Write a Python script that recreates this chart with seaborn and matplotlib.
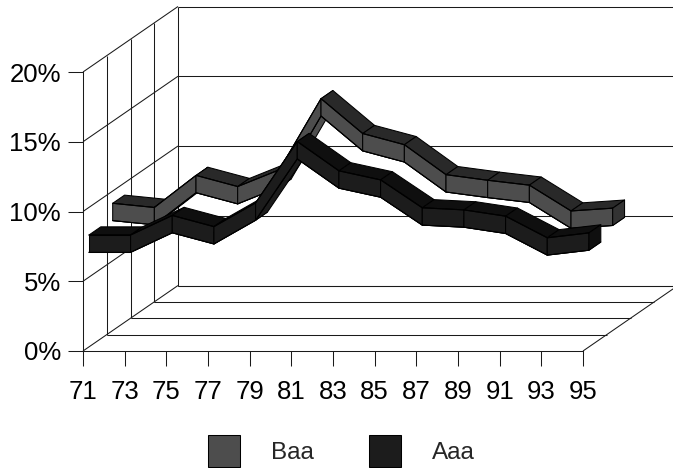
import numpy as np
import pandas as pd
import matplotlib
matplotlib.use("Agg")
import matplotlib.pyplot as plt
from matplotlib.patches import Patch
from matplotlib.ticker import PercentFormatter
import seaborn as sns

# values
years = ['71', '73', '75', '77', '79', '81', '83', '85', '87', '89', '91', '93', '95']
baa = [8.5, 8.2, 10.5, 9.7, 10.9, 16.0, 13.5, 12.7, 10.55, 10.15, 9.8, 7.95, 8.15]
aaa = [7.4, 7.4, 8.8, 8.0, 9.7, 14.1, 12.0, 11.35, 9.35, 9.2, 8.75, 7.2, 7.55]
y_ticks = [0, 5, 10, 15, 20]

W, H = 673, 468
LINE = 0.75
INK = '#1a1a1a'
FONT = 18.5
LEGEND_FONT = 17.5

# oblique depth of the box, in axis units (categories, percent)
DEPTH_X = 2.28
DEPTH_Y = 4.695
HALF = 0.62      # half the ribbon height in percent


def shift(x, v, d):
    # move a point back by depth fraction d
    return np.asarray(x, dtype=float) + d * DEPTH_X, np.asarray(v, dtype=float) + d * DEPTH_Y


sns.set_theme(style='white')
plt.rcParams['font.family'] = ['Liberation Sans', 'DejaVu Sans']
plt.rcParams['font.size'] = FONT

fig = plt.figure(figsize=(W / 100, H / 100), dpi=100)
ax = fig.add_axes([83 / W, (H - 351) / H, 500 / W, 279 / H])
ax.set_xlim(0, len(years) - 1)
ax.set_ylim(0, 20)
n = len(years) - 1


def wall_line(xs, vs):
    ax.plot(xs, vs, color=INK, lw=LINE, clip_on=False, zorder=1, solid_capstyle='butt')


# back wall and left wall
for v in y_ticks:
    wall_line([0, DEPTH_X], [v, v + DEPTH_Y])
    wall_line([DEPTH_X, n + DEPTH_X], [v + DEPTH_Y, v + DEPTH_Y])
# left wall verticals and floor lines
for d in [0.25, 0.5, 0.75, 1.0]:
    wall_line([d * DEPTH_X, d * DEPTH_X], [d * DEPTH_Y, 20 + d * DEPTH_Y])
    wall_line([d * DEPTH_X, n + d * DEPTH_X], [d * DEPTH_Y, d * DEPTH_Y])
wall_line([n, n + DEPTH_X], [0, DEPTH_Y])


def ribbon(values, d0, d1, front, top, under, cap, z):
    x = np.arange(len(values))
    v = np.array(values)
    fx, ft = shift(x, v + HALF, d0)
    _, fb = shift(x, v - HALF, d0)
    bx, bt = shift(x, v + HALF, d1)
    _, bb = shift(x, v - HALF, d1)
    style = dict(edgecolor='black', lw=LINE, clip_on=False, joinstyle='round')
    for i in range(n):
        ax.fill([fx[i], fx[i + 1], bx[i + 1], bx[i]], [fb[i], fb[i + 1], bb[i + 1], bb[i]],
                facecolor=under, zorder=z, **style)
    for i in range(n):
        ax.fill([fx[i], fx[i + 1], bx[i + 1], bx[i]], [ft[i], ft[i + 1], bt[i + 1], bt[i]],
                facecolor=top, zorder=z + 0.1, **style)
    for i in range(n):
        ax.fill([fx[i], fx[i + 1], fx[i + 1], fx[i]], [ft[i], ft[i + 1], fb[i + 1], fb[i]],
                facecolor=front, zorder=z + 0.2, **style)
    ax.fill([fx[n], bx[n], bx[n], fx[n]], [ft[n], bt[n], bb[n], fb[n]],
            facecolor=cap, zorder=z + 0.2, **style)
    # front face edges
    for edge in (ft, fb):
        df = pd.DataFrame({'x': fx, 'y': edge})
        sns.lineplot(data=df, x='x', y='y', color='black', lw=LINE, estimator=None,
                     sort=False, legend=False, ax=ax, clip_on=False, zorder=z + 0.3)


ribbon(baa, 0.3125, 0.4375, '#4d4d4d', '#292929', '#4d4d4d', '#333333', 3)
ribbon(aaa, 0.0625, 0.1875, '#1c1c1c', '#0f0f0f', '#1c1c1c', '#0f0f0f', 4)

ax.set_xlim(0, n)
ax.set_ylim(0, 20)
ax.set_xlabel('')
ax.set_ylabel('')
ax.set_xticks(range(len(years)), years)
ax.set_yticks(y_ticks)
ax.yaxis.set_major_formatter(PercentFormatter(decimals=0))
ax.tick_params(axis='both', length=10.8, width=LINE, color=INK, labelsize=FONT, labelcolor='black')
ax.tick_params(axis='x', bottom=True, pad=10)
ax.tick_params(axis='y', left=True, pad=5)
ax.patch.set_alpha(0)
for side in ['top', 'right']:
    ax.spines[side].set_visible(False)
for side in ['left', 'bottom']:
    ax.spines[side].set_color(INK)
    ax.spines[side].set_linewidth(LINE)

# legend sits below the axis
handles = [Patch(facecolor='#4d4d4d', edgecolor='black', lw=LINE, label='Baa'),
           Patch(facecolor='#1c1c1c', edgecolor='black', lw=LINE, label='Aaa')]
fig.legend(handles=handles, ncol=2, frameon=False, loc='lower left',
           bbox_to_anchor=(208 / W, 1 / H), borderpad=0, borderaxespad=0,
           handlelength=1.3, handleheight=1.63, handletextpad=1.3, columnspacing=2.26,
           fontsize=LEGEND_FONT)

fig.savefig('out.png', dpi=100)
